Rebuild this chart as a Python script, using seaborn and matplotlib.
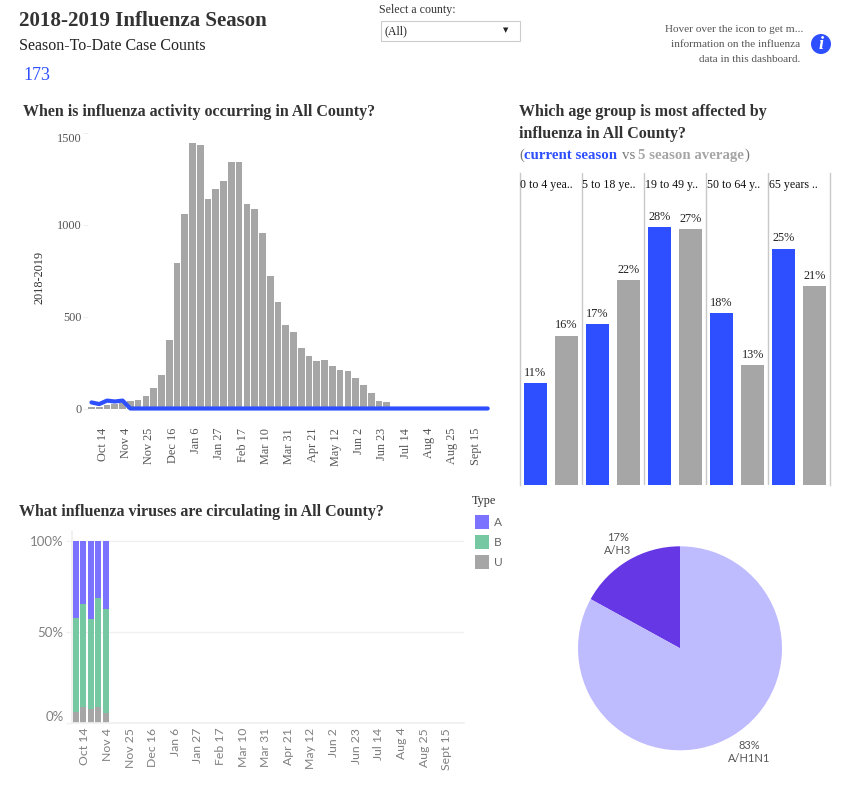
import matplotlib
matplotlib.use('Agg')
import matplotlib.pyplot as plt
from matplotlib.patches import Circle, Patch, Rectangle
from matplotlib.transforms import ScaledTranslation
import numpy as np
import pandas as pd
import seaborn as sns

W, H = 855, 799

BLUE = '#2e4fff'
GRAY = '#a6a6a6'
PURPLE = '#7b72ff'
GREEN = '#76c8a3'
DARK_TEXT = '#333333'

weeks = ['Oct 7', 'Oct 14', 'Oct 21', 'Oct 28', 'Nov 4', 'Nov 11', 'Nov 18', 'Nov 25',
         'Dec 2', 'Dec 9', 'Dec 16', 'Dec 23', 'Dec 30', 'Jan 6', 'Jan 13', 'Jan 20',
         'Jan 27', 'Feb 3', 'Feb 10', 'Feb 17', 'Feb 24', 'Mar 3', 'Mar 10', 'Mar 17',
         'Mar 24', 'Mar 31', 'Apr 7', 'Apr 14', 'Apr 21', 'Apr 28', 'May 5', 'May 12',
         'May 19', 'May 26', 'Jun 2', 'Jun 9', 'Jun 16', 'Jun 23', 'Jun 30', 'Jul 7',
         'Jul 14', 'Jul 21', 'Jul 28', 'Aug 4', 'Aug 11', 'Aug 18', 'Aug 25', 'Sept 1',
         'Sept 8', 'Sept 15', 'Sept 22', 'Sept 29']

avg_cases = [7, 9, 20, 25, 31, 40, 45, 67, 111, 181, 371, 790, 1055, 1441, 1430, 1136,
             1195, 1239, 1337, 1342, 1110, 1082, 952, 718, 577, 452, 414, 327, 284, 257,
             262, 230, 208, 203, 165, 127, 83, 40, 34, 3, 2, 1, 1, 1, 0, 0, 0, 0, 0, 0, 0, 0]
current_cases = [33, 24, 43, 38, 43, 0, 0, 0, 0, 0, 0, 0, 0, 0, 0, 0, 0, 0, 0, 0, 0, 0, 0, 0,
                 0, 0, 0, 0, 0, 0, 0, 0, 0, 0, 0, 0, 0, 0, 0, 0, 0, 0, 0, 0, 0, 0, 0, 0, 0, 0, 0, 0]

age_groups = ['0 to 4 yea..', '5 to 18 ye..', '19 to 49 y..', '50 to 64 y..', '65 years ..']
age_current = [10.9, 17.2, 27.6, 18.4, 25.3]
age_average = [16.0, 21.9, 27.4, 12.8, 21.3]

type_weeks = ['Oct 7', 'Oct 14', 'Oct 21', 'Oct 28', 'Nov 4']
pct_u = [6.0, 8.7, 7.5, 8.7, 5.3]
pct_b = [51.5, 56.3, 49.5, 59.7, 57.1]
pct_a = [42.5, 35.0, 43.0, 31.6, 37.6]

subtypes = ['A/H3', 'A/H1N1']
subtype_pct = [17, 83]


def add_ax(fig, left, top, right, bottom):
    return fig.add_axes([left / W, 1 - bottom / H, (right - left) / W, (bottom - top) / H])


def put(fig, x, y, s, **kw):
    kw.setdefault('va', 'center')
    return fig.text(x / W, 1 - y / H, s, **kw)


def nudge_labels(fig, ax, px):
    # the rotated week labels sit a little right of their bars
    # has to run after tick_params, which resets the label transform
    shift = ScaledTranslation(px / fig.dpi, 0, fig.dpi_scale_trans)
    for lab in ax.get_xticklabels():
        lab.set_transform(lab.get_transform() + shift)


sns.set_theme(style='white')
plt.rcParams['font.family'] = ['Liberation Serif', 'DejaVu Sans']

fig = plt.figure(figsize=(W / 100, H / 100), dpi=100)

# header
put(fig, 19, 21.5, '2018-2019 Influenza Season', fontsize=15.1, fontweight='bold', color=DARK_TEXT)
put(fig, 19, 46.5, 'Season-To-Date Case Counts', fontsize=11.55, color='#222222')
put(fig, 23, 76, '173', fontsize=13, color=BLUE)
put(fig, 379, 10, 'Select a county:', fontsize=8.6, color='#333333')
fig.add_artist(Rectangle((381 / W, 1 - 41 / H), 138.5 / W, 20 / H, transform=fig.transFigure,
                         facecolor='white', edgecolor='#cccccc', linewidth=0.8))
put(fig, 384, 31, '(All)', fontsize=8.6, color='#222222')
put(fig, 506, 30, '▼', fontsize=5, color='#222222', ha='center', family='DejaVu Sans')
put(fig, 803, 29, 'Hover over the icon to get m...', fontsize=8.15, color='#555555', ha='right')
put(fig, 800, 44.5, 'information on the influenza', fontsize=8.15, color='#555555', ha='right')
put(fig, 800, 59.5, 'data in this dashboard.', fontsize=8.15, color='#555555', ha='right')
fig.add_artist(Circle((821, H - 44), 10, transform=None, facecolor=BLUE, edgecolor='none'))
put(fig, 821, 44.5, 'i', fontsize=13, color='white', fontweight='bold', style='italic', ha='center')

# weekly case counts
put(fig, 23, 111.5, 'When is influenza activity occurring in All County?',
    fontsize=11.5, fontweight='bold', color=DARK_TEXT)
ax1 = add_ax(fig, 87.6, 132.5, 491.6, 408.5)
sns.barplot(x=weeks, y=avg_cases, color=GRAY, saturation=1, width=0.86, linewidth=0,
            errorbar=None, ax=ax1)
sns.lineplot(x=weeks, y=current_cases, color=BLUE, linewidth=3, sort=False, errorbar=None,
             clip_on=False, ax=ax1)
ax1.set_xlim(-0.5, 51.5)
ax1.set_ylim(0, 1500)
ax1.set_xticks(range(1, 52, 3))
ax1.set_xticklabels(weeks[1::3], rotation=90, fontsize=8.8, color='#555555')
ax1.set_yticks([0, 500, 1000, 1500])
ax1.set_yticklabels(['0', '500', '1000', '1500'], fontsize=8.8, color='#555555')
ax1.get_yticklabels()[-1].set_va('top')
ax1.tick_params(axis='x', length=0, pad=14)
ax1.tick_params(axis='y', length=3.5, width=0.7, color='#eeeeee', pad=1, left=True)
nudge_labels(fig, ax1, 3.5)
ax1.set_ylabel('2018-2019', fontsize=8.8, color='#333333')
ax1.yaxis.set_label_coords((45 - 87.6) / 404, (408.5 - 277) / 276)
sns.despine(ax=ax1, left=True, bottom=True)

# age groups
put(fig, 519, 112, 'Which age group is most affected by', fontsize=11.5, fontweight='bold', color=DARK_TEXT)
put(fig, 519, 133.5, 'influenza in All County?', fontsize=11.5, fontweight='bold', color=DARK_TEXT)
put(fig, 519, 155.5, '(', fontsize=10.75, color='#777777')
put(fig, 524.5, 155.5, 'current season', fontsize=10.75, fontweight='bold', color=BLUE)
put(fig, 622, 155.5, 'vs', fontsize=10.75, color='#777777')
put(fig, 638.5, 155.5, '5 season average', fontsize=10.75, fontweight='bold', color=GRAY)
put(fig, 745, 155.5, ')', fontsize=10.75, color='#777777')

age_df = pd.DataFrame({
    'group': age_groups * 2,
    'pct': age_current + age_average,
    'season': ['current'] * 5 + ['average'] * 5,
})
ax2 = add_ax(fig, 519.7, 173, 830.3, 485)
sns.barplot(data=age_df, x='group', y='pct', hue='season', palette={'current': BLUE, 'average': GRAY},
            saturation=1, width=1.0, gap=0.26, linewidth=0, errorbar=None, legend=False, ax=ax2)
for bars in ax2.containers:
    ax2.bar_label(bars, fmt='{:.0f}%', fontsize=8.8, color='#222222', padding=3)
ax2.set_xlim(-0.5, 4.5)
ax2.set_ylim(0, 33.4)
ax2.set_xticks([])
ax2.set_yticks([])
ax2.set_xlabel('')
ax2.set_ylabel('')
sns.despine(ax=ax2, top=True, bottom=True, left=False, right=False)
for side in ['left', 'right']:
    ax2.spines[side].set_color('#c8c8c8')
    ax2.spines[side].set_linewidth(1)
for i, name in enumerate(age_groups):
    if i > 0:
        ax2.axvline(i - 0.5, color='#c8c8c8', linewidth=1)
    ax2.text(i - 0.49, 0.962, name, transform=ax2.get_xaxis_transform(),
             fontsize=8.6, color='#111111', va='center', ha='left')

# virus types
put(fig, 19, 511.5, 'What influenza viruses are circulating in All County?',
    fontsize=11.5, fontweight='bold', color=DARK_TEXT)
ax3 = add_ax(fig, 72, 531.4, 464, 723)
cum_u = np.array(pct_u)
cum_b = cum_u + np.array(pct_b)
cum_a = cum_b + np.array(pct_a)
for values, colour in [(cum_a, PURPLE), (cum_b, GREEN), (cum_u, GRAY)]:
    sns.barplot(x=type_weeks, y=values, order=weeks, color=colour, saturation=1, width=0.8,
                linewidth=0, errorbar=None, ax=ax3)
ax3.set_xlim(-0.5, 51.5)
ax3.set_ylim(0, 105)
ax3.set_xticks(range(1, 52, 3))
ax3.set_xticklabels(weeks[1::3], rotation=90, fontsize=8.8, color='#808080', family='Lato')
ax3.set_yticks([0, 50, 100])
ax3.set_yticklabels(['0%', '50%', '100%'], fontsize=9.5, color='#808080', family='Lato')
ax3.get_yticklabels()[0].set_va('bottom')
ax3.grid(axis='y', color='#f0f0f0', linewidth=1)
ax3.set_axisbelow(True)
ax3.tick_params(axis='x', length=0, pad=3.5)
ax3.tick_params(axis='y', length=4, width=1, color='#f0f0f0', pad=2, left=True)
nudge_labels(fig, ax3, 1.5)
sns.despine(ax=ax3, right=True, top=True, bottom=False)
ax3.spines['left'].set_color('#f0f0f0')
ax3.spines['bottom'].set_color('#f0f0f0')

put(fig, 472, 501, 'Type', fontsize=8.8, color='#333333')
handles = [Patch(facecolor=PURPLE, linewidth=0, label='A'), Patch(facecolor=GREEN, linewidth=0, label='B'),
           Patch(facecolor=GRAY, linewidth=0, label='U')]
fig.legend(handles=handles, loc='upper left', bbox_to_anchor=(475 / W, 1 - 515 / H),
           frameon=False, borderpad=0, borderaxespad=0, handlelength=1.2, handleheight=1.42,
           handletextpad=0.42, labelspacing=0.5,
           prop={'family': 'Lato', 'size': 8.6}, labelcolor='#666666')

# flu A subtypes
ax4 = add_ax(fig, 578, 546.3, 782, 750.3)
wedges, labels = ax4.pie(subtype_pct, labels=[f'{p}%\n{s}' for p, s in zip(subtype_pct, subtypes)],
                         colors=['#6637e5', '#bfbbff'], startangle=90, radius=1,
                         wedgeprops={'linewidth': 0},
                         textprops={'family': 'Lato', 'fontsize': 8, 'color': '#555555',
                                    'linespacing': 1.25})
for lab, pos in zip(labels, [(-0.61, 1.02), (0.676, -1.015)]):
    lab.set_ha('center')
    lab.set_va('center')
    lab.set_position(pos)
ax4.set_xlim(-1, 1)
ax4.set_ylim(-1, 1)

fig.savefig('out.png', dpi=100, facecolor='white')
